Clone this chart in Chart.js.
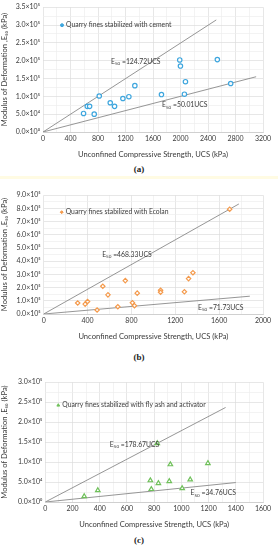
<!DOCTYPE html>
<html><head><meta charset="utf-8">
<script src="https://cdn.jsdelivr.net/npm/chart.js@4.4.1/dist/chart.umd.min.js"></script>
<style>
html,body{margin:0;padding:0;background:#fff;width:278px;height:550px;overflow:hidden;position:relative;font-family:Lato,"Liberation Sans",sans-serif}
.wrap{position:absolute;left:0;width:278px}
.cap{position:absolute;left:0;width:278px;text-align:center;font:bold 9px "Liberation Serif",serif;color:#222}
.band{position:absolute;left:0;width:278px;top:176px;height:3px;background:#fffbe3}
</style></head><body>
<div class="wrap" style="top:0;height:159px"><canvas id="ca"></canvas></div>
<div class="cap" style="top:164px">(a)</div>
<div class="band"></div>
<div class="wrap" style="top:188px;height:153px"><canvas id="cb"></canvas></div>
<div class="cap" style="top:352px">(b)</div>
<div class="wrap" style="top:375px;height:154px"><canvas id="cc"></canvas></div>
<div class="cap" style="top:535px">(c)</div>
<script>
// ---- Data (a) cement ----
const ucsA = [590,644,678,745,818,978,1041,1162,1249,1336,1723,1989,1999,2072,2057,2536,2730];
const e50A = [52000,72000,72000,50000,101000,82000,72000,94000,99000,130000,105000,202000,185000,141000,106000,203000,136000];
const fitA = [{label:'124.72UCS', x:[0,2520], y:[0,314300]}, {label:'50.01UCS', x:[0,3100], y:[0,155000]}];
// ---- Data (b) Ecolan ----
const ucsB = [310,378,400,487,539,586,676,744,809,828,853,1066,1066,1283,1321,1361,1696];
const e50B = [83000,75000,95000,30000,210000,145000,55000,253000,85000,63000,158000,180000,165000,168000,268000,313000,794000];
const fitB = [{label:'468.33UCS', x:[0,1780], y:[0,833600]}, {label:'71.73UCS', x:[0,1880], y:[0,134900]}];
// ---- Data (c) fly ash + activator ----
const ucsC = [286,386,772,779,831,823,911,919,1006,1065,1195];
const e50C = [14000,29000,54000,32000,47000,147000,52000,94000,34000,56000,97000];
const fitC = [{label:'178.67UCS', x:[0,1325], y:[0,236700]}, {label:'34.76UCS', x:[0,1400], y:[0,48700]}];
// tick ranges
const xTicksA = {max:3200, major:400}, yTicksA = {max:350000, major:50000};
const xTicksB = {max:2000, major:400}, yTicksB = {max:900000, major:100000};
const xTicksC = {max:1600, major:200}, yTicksC = {max:300000, major:50000};

const sup = {'0':'⁰','1':'¹','2':'²','3':'³','4':'⁴','5':'⁵','6':'⁶','7':'⁷','8':'⁸','9':'⁹'};
function sci(v, zeroExp){
  if (v===0) return '0.0×10'+zeroExp;
  const e = Math.floor(Math.log10(v)+1e-9);
  const m = v/Math.pow(10,e);
  return m.toFixed(1)+'×10'+String(e).split('').map(c=>sup[c]).join('');
}
const FONT = 'Lato, "Liberation Sans", sans-serif';
const txtCol = '#3a3a3a';

function marker(ctx, style, x, y, r){
  ctx.beginPath();
  if (style==='circle') ctx.arc(x,y,r,0,Math.PI*2);
  else if (style==='rectRot'){ ctx.moveTo(x,y-r); ctx.lineTo(x+r,y); ctx.lineTo(x,y+r); ctx.lineTo(x-r,y); ctx.closePath(); }
  else { ctx.moveTo(x,y-r); ctx.lineTo(x+r*0.95,y+r*0.6); ctx.lineTo(x-r*0.95,y+r*0.6); ctx.closePath(); }
  ctx.fill(); ctx.stroke();
}

const labelPlugin = {
  id:'labels',
  afterDatasetsDraw(chart, args, opts){
    const ctx = chart.ctx, xs = chart.scales.x, ys = chart.scales.y, ca = chart.chartArea;
    ctx.save();
    ctx.fillStyle = txtCol;
    ctx.textBaseline = 'middle';
    opts.fitLabels.forEach(l=>{
      let px = xs.getPixelForValue(l.x), py = ys.getPixelForValue(l.y);
      ctx.font = '6.8px '+FONT;
      ctx.fillText('E', px, py);
      let w = ctx.measureText('E').width;
      ctx.font = '4.6px '+FONT;
      ctx.fillText('50', px+w, py+2);
      let w2 = ctx.measureText('50').width;
      ctx.font = '6.8px '+FONT;
      ctx.fillText(' =' + l.text, px+w+w2, py);
    });
    const lg = opts.legend;
    const mx = ca.left + lg.dx, my = ca.top + lg.dy;
    const ds = chart.data.datasets[0];
    ctx.strokeStyle = ds.borderColor; ctx.fillStyle = ds.borderColor; ctx.lineWidth = 1;
    marker(ctx, ds.pointStyle, mx, my, 1.5);
    ctx.fillStyle = txtCol;
    ctx.font = '6.8px '+FONT;
    ctx.fillText(lg.text, mx+4, my);
    ctx.restore();
  }
};

function makeChart(id, ucs, e50, fits, xt, yt, style, color, legendText, labelPos, legendPos, yLeft, zeroExp){
  const pts = ucs.map((u,i)=>({x:u, y:e50[i]}));
  const datasets = [{
    type:'scatter', data:pts, pointStyle:style, pointRadius: style==='triangle'?2.6:2.2,
    borderColor:color, backgroundColor:'rgba(255,255,255,0.9)', borderWidth:1.2, order:0
  }];
  fits.forEach(f=>{
    datasets.push({type:'line', data:f.x.map((x,i)=>({x:x,y:f.y[i]})), borderColor:'#8a8a8a', borderWidth:0.9, pointRadius:0, fill:false, order:1});
  });
  const gridCol = (major)=> (c)=> (c.tick && Math.abs(c.tick.value % major) < 1e-6) ? '#dcdcdc' : '#eeeeee';
  new Chart(document.getElementById(id), {
    data:{datasets},
    plugins:[labelPlugin],
    options:{
      responsive:true, maintainAspectRatio:false, animation:false,
      layout:{padding:{left:0,right:15,top:6,bottom:0}},
      plugins:{legend:{display:false}, tooltip:{enabled:false},
        labels:{fitLabels: fits.map((f,i)=>({text:f.label, x:labelPos[i][0], y:labelPos[i][1]})), legend:{text:legendText, dx:legendPos[0], dy:legendPos[1]}}},
      scales:{
        x:{type:'linear', min:0, max:xt.max,
          ticks:{stepSize:xt.major/2, autoSkip:false, maxRotation:0, padding:3, color:txtCol, font:{family:FONT,size:7},
            callback:(v)=> (Math.abs(v % xt.major) < 1e-6) ? String(v) : ''},
          grid:{color:gridCol(xt.major), lineWidth:0.7, drawTicks:false},
          border:{color:'#d0d0d0'},
          title:{display:true, text:'Unconfined Compressive Strength, UCS (kPa)', color:txtCol, font:{family:FONT,size:7.6}, padding:{top:1,bottom:0}},
          afterFit:(s)=>{s.height = 27;}
        },
        y:{type:'linear', min:0, max:yt.max,
          ticks:{stepSize:yt.major/2, autoSkip:false, padding:3, color:txtCol, font:{family:FONT,size:7},
            callback:(v)=> (Math.abs(v % yt.major) < 1e-6) ? sci(v, zeroExp) : ''},
          grid:{color:gridCol(yt.major), lineWidth:0.7, drawTicks:false},
          border:{display:false},
          title:{display:true, text:'Modulus of Deformation ,E₅₀ (kPa)', color:txtCol, font:{family:FONT,size:7.6}, padding:{top:0,bottom:1}},
          afterFit:(s)=>{s.width = yLeft;}
        }
      }
    }
  });
}

makeChart('ca', ucsA, e50A, fitA, xTicksA, yTicksA, 'circle', '#3ea6de', 'Quarry fines stabilized with cement',
  [[989,197000],[1731,75000]], [19,18], 43, '⁰');
makeChart('cb', ucsB, e50B, fitB, xTicksB, yTicksB, 'rectRot', '#f49a4c', 'Quarry fines stabilized with Ecolan',
  [[533,449000],[1407,50000]], [18,17], 43.7, '⁵');
makeChart('cc', ucsC, e50C, fitC, xTicksC, yTicksC, 'triangle', '#6fc05a', 'Quarry fines stabilized with fly ash and activator',
  [[474,144000],[1067,22000]], [13,23], 45.3, '⁰');
</script>
</body></html>
